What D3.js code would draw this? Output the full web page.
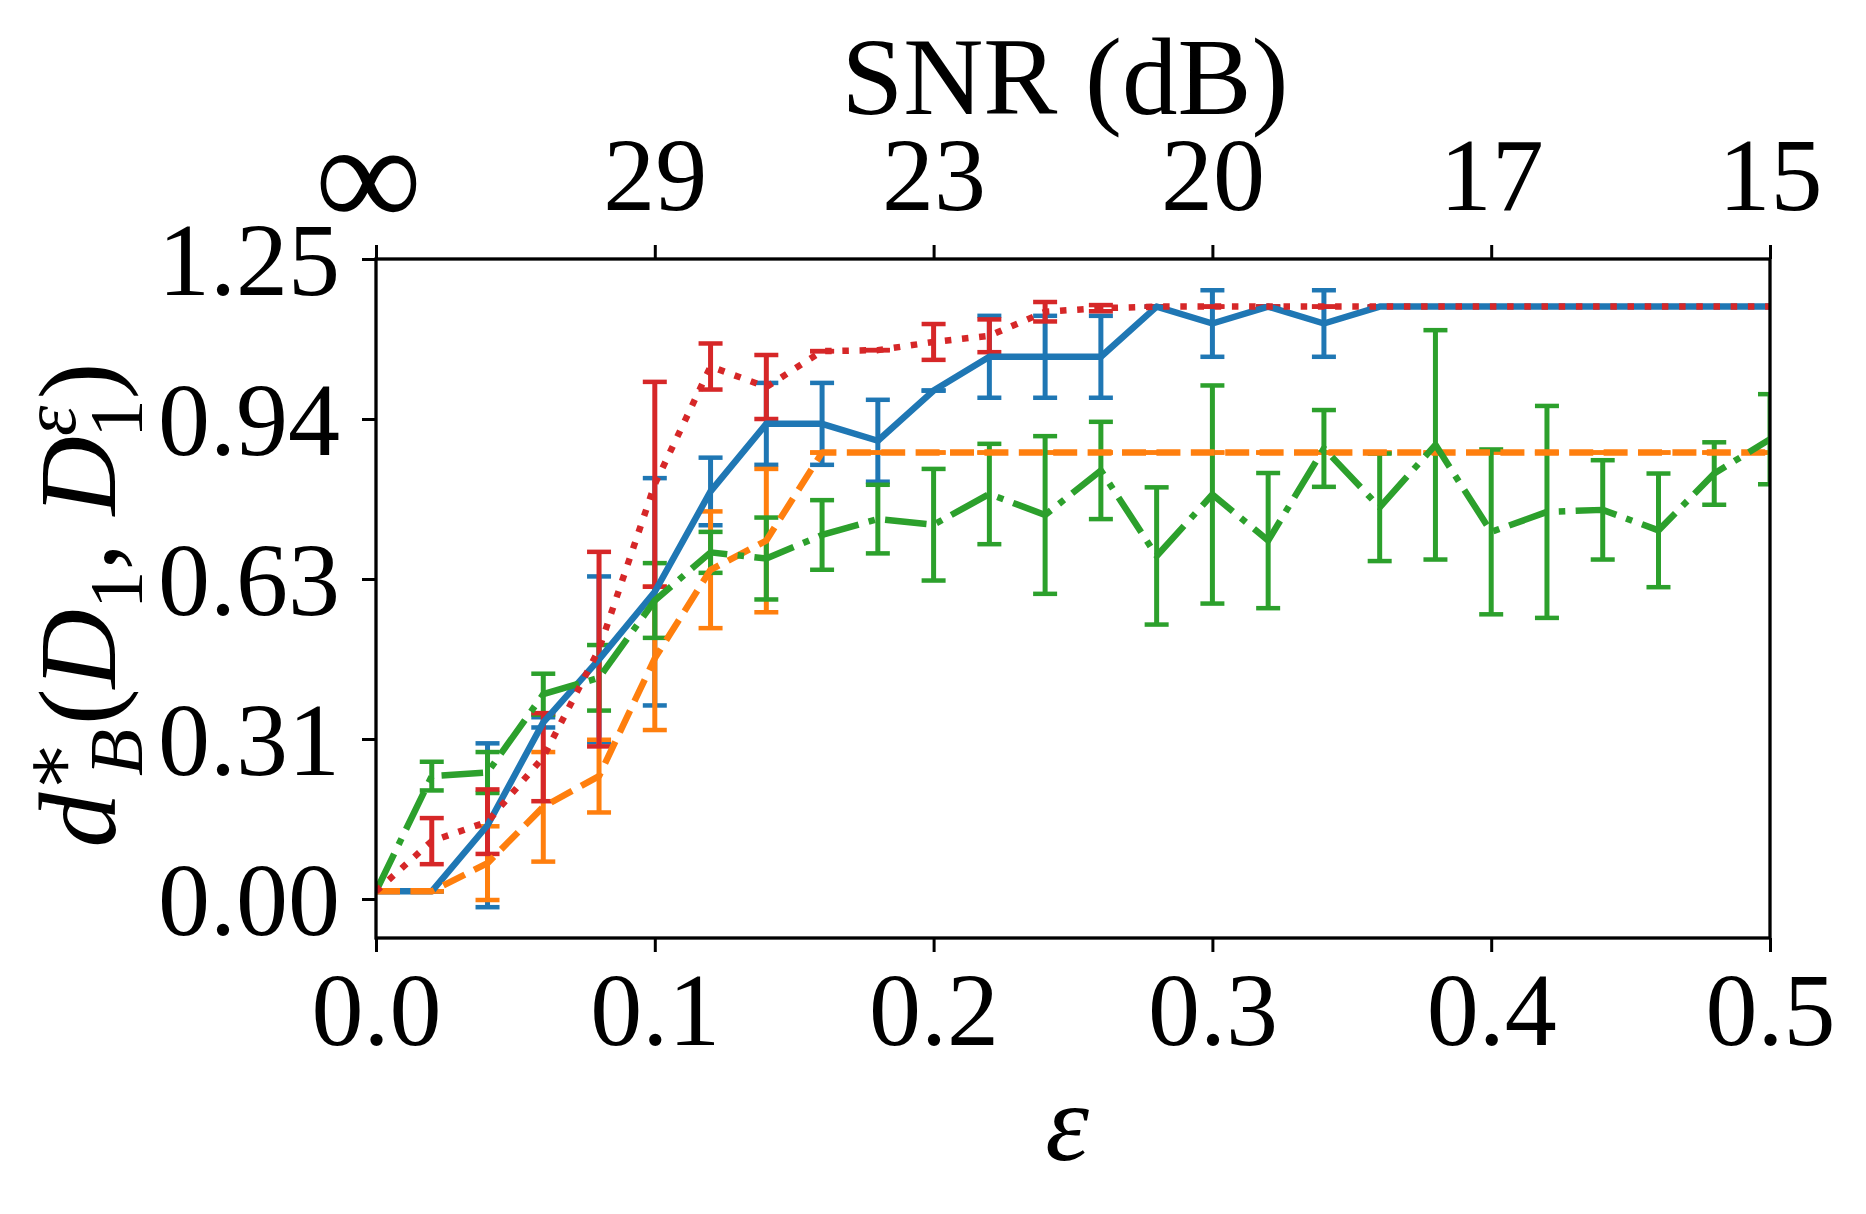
<!DOCTYPE html>
<html>
<head>
<meta charset="utf-8">
<script src="https://cdn.jsdelivr.net/npm/d3@7"></script>
<style>
  body { margin: 0; background: #fff; }
  svg { display: block; }
</style>
</head>
<body>
<svg id="chart" width="1866" height="1214"></svg>
<script>
const eps = [0, 0.02, 0.04, 0.06, 0.08, 0.10, 0.12, 0.14, 0.16, 0.18, 0.20, 0.22, 0.24,
  0.26, 0.28, 0.30, 0.32, 0.34, 0.36, 0.38, 0.40, 0.42, 0.44, 0.46, 0.48, 0.50];

// solid blue
const meanSolid = [0.015, 0.015, 0.144, 0.345, 0.468, 0.600, 0.796, 0.928, 0.928, 0.895, 0.993, 1.059, 1.059,
  1.059, 1.157, 1.124, 1.157, 1.124, 1.157, 1.157, 1.157, 1.157, 1.157, 1.157, 1.157, 1.157];
const errSolid = [0, 0, 0.160, 0.010, 0.162, 0.222, 0.066, 0.080, 0.080, 0.080, 0, 0.080, 0.080,
  0.080, 0, 0.065, 0, 0.065, 0, 0, 0, 0, 0, 0, 0, 0];

// dashed orange
const meanDashed = [0.015, 0.015, 0.070, 0.180, 0.240, 0.470, 0.643, 0.700, 0.872, 0.872, 0.872, 0.872, 0.872,
  0.872, 0.872, 0.872, 0.872, 0.872, 0.872, 0.872, 0.872, 0.872, 0.872, 0.872, 0.872, 0.872];
const errDashed = [0, 0, 0.072, 0.107, 0.071, 0.140, 0.114, 0.140, 0, 0, 0, 0, 0,
  0, 0, 0, 0, 0, 0, 0, 0, 0, 0, 0, 0, 0];

// dash-dot green
const meanDashDot = [0.015, 0.240, 0.247, 0.400, 0.432, 0.583, 0.677, 0.665, 0.711, 0.742, 0.731, 0.791, 0.750,
  0.837, 0.670, 0.790, 0.700, 0.880, 0.765, 0.887, 0.717, 0.756, 0.760, 0.720, 0.831, 0.898];
const errDashDot = [0, 0.028, 0.040, 0.040, 0.064, 0.073, 0.040, 0.080, 0.068, 0.067, 0.109, 0.098, 0.154,
  0.095, 0.134, 0.213, 0.132, 0.075, 0.105, 0.224, 0.161, 0.207, 0.097, 0.111, 0.061, 0.088];

// dotted red
const meanDotted = [0.015, 0.113, 0.151, 0.277, 0.488, 0.810, 1.040, 1.000, 1.070, 1.072, 1.088, 1.100, 1.147,
  1.154, 1.157, 1.157, 1.157, 1.157, 1.157, 1.157, 1.157, 1.157, 1.157, 1.157, 1.157, 1.157];
const errDotted = [0, 0.045, 0.063, 0.086, 0.190, 0.200, 0.045, 0.0625, 0, 0, 0.035, 0.032, 0.019,
  0.006, 0, 0, 0, 0, 0, 0, 0, 0, 0, 0, 0, 0];

const xTicks = [0, 0.1, 0.2, 0.3, 0.4, 0.5];
const xTickLabels = ["0.0", "0.1", "0.2", "0.3", "0.4", "0.5"];
const snrTickLabels = ["\u221E", "29", "23", "20", "17", "15"];
const yTicks = [0, 0.3125, 0.625, 0.9375, 1.25];
const yTickLabels = ["0.00", "0.31", "0.63", "0.94", "1.25"];

const series = [
  { mean: meanSolid, err: errSolid, color: "#1f77b4", dash: null },
  { mean: meanDashed, err: errDashed, color: "#ff7f0e", dash: "24,10.4" },
  { mean: meanDashDot, err: errDashDot, color: "#2ca02c", dash: "41.6,10.4,6.5,10.4" },
  { mean: meanDotted, err: errDotted, color: "#d62728", dash: "6.5,10.7" }
];

const font = "'Liberation Serif', 'DejaVu Serif', serif";
const svg = d3.select("#chart");

const plotLeft = 376, plotRight = 1770, plotTop = 259, plotBottom = 938;

const x = d3.scaleLinear().domain([0, 0.5]).range([plotLeft, plotRight]);
const y = d3.scaleLinear().domain([-0.0762, 1.25]).range([plotBottom, plotTop]);

svg.append("defs").append("clipPath").attr("id", "plot-clip")
  .append("rect")
  .attr("x", plotLeft).attr("y", plotTop)
  .attr("width", plotRight - plotLeft).attr("height", plotBottom - plotTop);

const plot = svg.append("g").attr("clip-path", "url(#plot-clip)");

// error bars first (all series), then the data lines on top
const capHalf = 12;
series.forEach(s => {
  const g = plot.append("g");
  eps.forEach((e, i) => {
    const cx = x(e);
    const lo = y(s.mean[i] - s.err[i]);
    const hi = y(s.mean[i] + s.err[i]);
    g.append("line")
      .attr("x1", cx).attr("x2", cx).attr("y1", lo).attr("y2", hi)
      .attr("stroke", s.color).attr("stroke-width", 5);
    [lo, hi].forEach(cy => {
      g.append("line")
        .attr("x1", cx - capHalf).attr("x2", cx + capHalf)
        .attr("y1", cy).attr("y2", cy)
        .attr("stroke", s.color).attr("stroke-width", 4.5);
    });
  });
});

const line = d3.line()
  .x((d, i) => x(eps[i]))
  .y(d => y(d));

series.forEach(s => {
  plot.append("path")
    .datum(s.mean)
    .attr("d", line)
    .attr("fill", "none")
    .attr("stroke", s.color)
    .attr("stroke-width", 6.5)
    .attr("stroke-linejoin", "round")
    .attr("stroke-dasharray", s.dash);
});

// frame
svg.append("rect")
  .attr("x", plotLeft).attr("y", plotTop)
  .attr("width", plotRight - plotLeft).attr("height", plotBottom - plotTop)
  .attr("fill", "none").attr("stroke", "#000").attr("stroke-width", 3.3);

function styleAxis(g) {
  g.select(".domain").remove();
  g.selectAll(".tick line").attr("stroke", "#000").attr("stroke-width", 3);
  g.selectAll(".tick text")
    .attr("font-family", font)
    .attr("font-size", 104)
    .attr("fill", "#000");
}

const xAxis = svg.append("g")
  .attr("transform", `translate(0,${plotBottom})`)
  .call(d3.axisBottom(x).tickValues(xTicks).tickSize(14)
    .tickFormat((d, i) => xTickLabels[i]))
  .call(styleAxis);
xAxis.selectAll(".tick text").attr("y", 107).attr("dy", 0);

const topAxis = svg.append("g")
  .attr("transform", `translate(0,${plotTop})`)
  .call(d3.axisTop(x).tickValues(xTicks).tickSize(14)
    .tickFormat((d, i) => snrTickLabels[i]))
  .call(styleAxis);
topAxis.selectAll(".tick text").attr("y", -49).attr("dy", 0)
  .each(function(d, i) {
    if (i === 0) {
      d3.select(this).attr("font-size", 150).attr("x", -8).attr("y", -32);
    }
  });

const yAxis = svg.append("g")
  .attr("transform", `translate(${plotLeft},0)`)
  .call(d3.axisLeft(y).tickValues(yTicks).tickSize(14)
    .tickFormat((d, i) => yTickLabels[i]))
  .call(styleAxis);
yAxis.selectAll(".tick text").attr("x", -36).attr("dy", "0.34em");

// axis labels
svg.append("text")
  .attr("x", 1065).attr("y", 114)
  .attr("text-anchor", "middle")
  .attr("font-family", font).attr("font-size", 111)
  .text("SNR (dB)");

svg.append("text")
  .attr("x", 1067).attr("y", 1160)
  .attr("text-anchor", "middle")
  .attr("font-family", font).attr("font-size", 111)
  .attr("font-style", "italic")
  .text("\u03B5");

const ylab = svg.append("text")
  .attr("transform", "translate(115,605) rotate(-90)")
  .attr("text-anchor", "middle")
  .attr("font-family", font).attr("font-size", 110);
ylab.append("tspan").attr("font-style", "italic").text("d");
ylab.append("tspan").attr("font-size", 77).attr("dy", -40).text("\u2217");
ylab.append("tspan").attr("font-size", 77).attr("font-style", "italic").attr("dx", -36).attr("dy", 67).text("B");
ylab.append("tspan").attr("dy", -27).attr("dx", 4).text("(");
ylab.append("tspan").attr("font-style", "italic").text("D");
ylab.append("tspan").attr("font-size", 77).attr("dy", 27).text("1");
ylab.append("tspan").attr("dy", -27).text(", ");
ylab.append("tspan").attr("font-style", "italic").text("D");
ylab.append("tspan").attr("font-size", 77).attr("font-style", "italic").attr("dy", -40).text("\u03B5");
ylab.append("tspan").attr("font-size", 77).attr("dx", -32).attr("dy", 67).text("1");
ylab.append("tspan").attr("dy", -27).text(")");
</script>
</body>
</html>
